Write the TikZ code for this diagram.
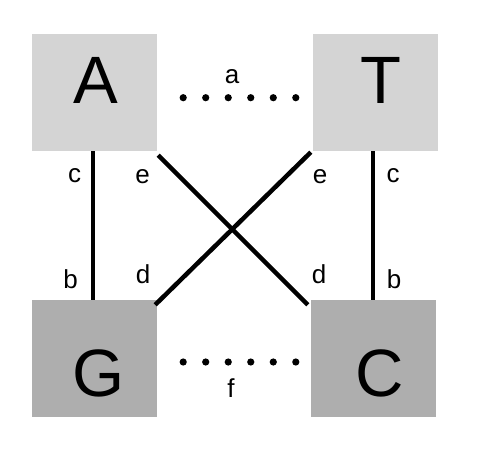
\documentclass[tikz,border=0pt]{standalone}
\usepackage{fontspec}
\setmainfont{Liberation Sans}
\usetikzlibrary{calc}
\definecolor{lightbox}{HTML}{D4D4D4}
\definecolor{darkbox}{HTML}{AEAEAE}
\tikzset{
  box/.style={rectangle, inner sep=0pt, minimum width=125pt, minimum height=117pt, draw=none},
  big/.style={inner sep=0pt, anchor=base, font=\fontsize{67}{67}\selectfont},
  small/.style={inner sep=0pt, anchor=base, font=\fontsize{26}{26}\selectfont},
  bond/.style={line width=4.5pt},
  dotmark/.style={fill=black}
}
\begin{document}
\begin{tikzpicture}[x=1pt,y=-1pt]
\useasboundingbox (0,0) rectangle (478,452);
\node[box, fill=lightbox] (A) at (94.5,92.5) {};
\node[box, fill=lightbox] (T) at (375.5,92.5) {};
\node[box, fill=darkbox] (G) at (94.5,358.5) {};
\node[box, fill=darkbox] (C) at (373.5,358.5) {};
\node[big] (lA) at (95.5,103) {A};
\node[big] (lT) at (380.5,103) {T};
\node[big] (lG) at (99,396) {G};
\node[big] (lC) at (379.5,396) {C};
\draw[bond] ([xshift=-1.5pt]A.south) -- ([xshift=-1.5pt]G.north);
\draw[bond] ([xshift=-2.5pt]T.south) -- ([xshift=-0.5pt]C.north);
\draw[bond] ($(A.south east)+(1,4)$) -- ($(C.north west)+(-3,5)$);
\draw[bond] ($(T.south west)+(-2,1)$) -- ($(G.north east)+(-2,5)$);
\coordinate (at1) at ($(A.east)+(26,5.2)$);
\coordinate (at2) at ($(T.west)+(-17,5.2)$);
\coordinate (gc1) at ($(G.east)+(26,3.5)$);
\coordinate (gc2) at ($(C.west)+(-15,3.5)$);
\foreach \i in {0,...,5} {
  \fill[dotmark] ($(at1)!\i/5!(at2)$) circle (3.6pt);
  \fill[dotmark] ($(gc1)!\i/5!(gc2)$) circle (3.6pt);
}
\node[small] (la) at (232,83) {a};
\node[small] (lf) at (231,397) {f};
\node[small] (lc1) at (74.5,182) {c};
\node[small] (le1) at (142.5,183) {e};
\node[small] (lb1) at (70.5,288) {b};
\node[small] (ld1) at (143,283) {d};
\node[small] (le2) at (320,183) {e};
\node[small] (lc2) at (393,182) {c};
\node[small] (ld2) at (319,283) {d};
\node[small] (lb2) at (394,288) {b};
\end{tikzpicture}
\end{document}
